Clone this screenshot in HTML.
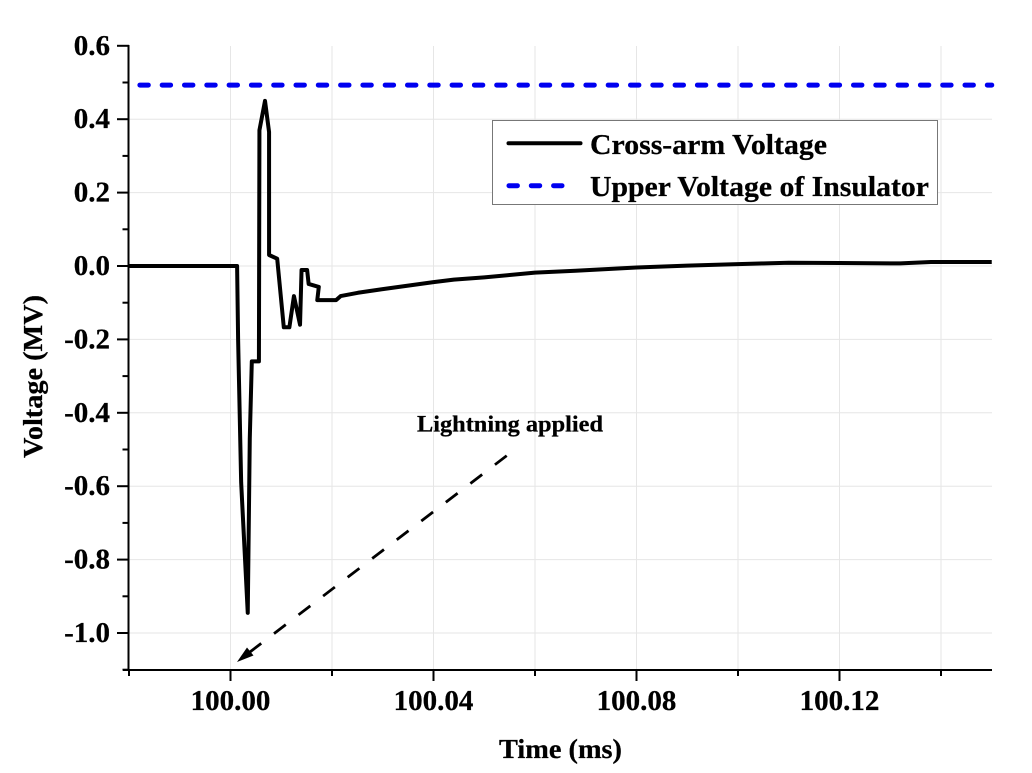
<!DOCTYPE html>
<html lang="en">
<head>
<meta charset="utf-8">
<title>Cross-arm Voltage Chart</title>
<style>
  html, body { margin: 0; padding: 0; background: #fff; }
  svg { display: block; font-family: "Liberation Serif", serif; font-weight: bold; fill: #000; filter: blur(0.3px); }
  text { stroke: #000; stroke-width: 0.25px; }
</style>
</head>
<body>
<svg id="chart" xmlns="http://www.w3.org/2000/svg" width="1032" height="773" viewBox="0 0 1032 773">
  <rect x="0" y="0" width="1032" height="773" fill="#fff"/>
  <g id="grid"></g>
  <g id="series"></g>
  <g id="axes"></g>
  <text x="499" y="758" font-size="27" textLength="123" lengthAdjust="spacingAndGlyphs">Time (ms)</text>
  <text transform="translate(42,458) rotate(-90)" font-size="27.5" textLength="163" lengthAdjust="spacingAndGlyphs">Voltage (MV)</text>
  <g>
    <rect x="492.5" y="120.5" width="445" height="84" fill="#fff" stroke="#777" stroke-width="1"/>
    <line x1="508.5" y1="143.3" x2="580.5" y2="143.3" stroke="#000" stroke-width="4" stroke-linecap="round"/>
    <text x="590" y="154" font-size="29" textLength="237" lengthAdjust="spacingAndGlyphs">Cross-arm Voltage</text>
    <line x1="509" y1="185.7" x2="563" y2="185.7" stroke="#0000f0" stroke-width="5" stroke-linecap="round" stroke-dasharray="8.4 13.9"/>
    <text x="590" y="196" font-size="29" textLength="339" lengthAdjust="spacingAndGlyphs">Upper Voltage of Insulator</text>
  </g>
  <g>
    <text x="417" y="431.5" font-size="23" textLength="186" lengthAdjust="spacingAndGlyphs">Lightning applied</text>
    <line x1="506.7" y1="455.7" x2="246" y2="655" stroke="#000" stroke-width="2.8" stroke-dasharray="14.8 16.1"/>
    <polygon points="237,662 247,647.5 253.5,655.5" fill="#000"/>
  </g>
</svg>
<script>
// Chart data
const crossArmTime = [99.98, 100.0013, 100.0015, 100.0021, 100.0034, 100.0038, 100.0042, 100.0056, 100.0057, 100.0068, 100.0076, 100.0076, 100.0092, 100.0105, 100.0116, 100.0125, 100.0137, 100.0140, 100.0151, 100.0154, 100.0174, 100.0171, 100.0208, 100.0217, 100.0251, 100.03, 100.04, 100.044, 100.05, 100.06, 100.068, 100.08, 100.09, 100.10, 100.11, 100.12, 100.132, 100.138, 100.15];
const crossArmVoltage = [0, 0, -0.2, -0.59, -0.945, -0.47, -0.26, -0.26, 0.37, 0.45, 0.365, 0.03, 0.02, -0.167, -0.167, -0.082, -0.16, -0.011, -0.011, -0.049, -0.057, -0.093, -0.093, -0.082, -0.073, -0.063, -0.044, -0.037, -0.031, -0.018, -0.013, -0.004, 0.001, 0.005, 0.009, 0.008, 0.007, 0.011, 0.011];
const upperVoltageTime = [99.98, 100.15];
const upperVoltageValue = [0.493, 0.493];
const xMajorTicks = [100.00, 100.04, 100.08, 100.12];
const xMinorTicks = [99.98, 100.02, 100.06, 100.10, 100.14];
const yMajorTicks = [0.6, 0.4, 0.2, 0.0, -0.2, -0.4, -0.6, -0.8, -1.0];
const yMinorTicks = [0.5, 0.3, 0.1, -0.1, -0.3, -0.5, -0.7, -0.9, -1.1];

// Axis functions
function xScale(t) { return 230.5 + (t - 100) * 5075; }
function yScale(v) { return 266 - v * 367; }

const SVG_NS = 'http://www.w3.org/2000/svg';
const gridGroup = document.getElementById('grid');
const seriesGroup = document.getElementById('series');
const axesGroup = document.getElementById('axes');

function makeLine(x1, y1, x2, y2, color, width) {
  const el = document.createElementNS(SVG_NS, 'line');
  el.setAttribute('x1', x1);
  el.setAttribute('y1', y1);
  el.setAttribute('x2', x2);
  el.setAttribute('y2', y2);
  el.setAttribute('stroke', color);
  el.setAttribute('stroke-width', width);
  return el;
}

const GRID = '#e6e6e6';
xMajorTicks.concat(xMinorTicks).forEach(function (t) {
  if (t === 99.98) return;
  const x = xScale(t);
  const el = makeLine(x, 46, x, 670, GRID, 1);
  
  
  gridGroup.appendChild(el);
});
yMajorTicks.forEach(function (v) {
  if (v === 0.6) return;
  const y = yScale(v);
  const el = makeLine(129, y, 992, y, GRID, 1);
  
  
  gridGroup.appendChild(el);
});

function pointString(xs, ys) {
  return xs.map(function (t, i) {
    return xScale(t).toFixed(2) + ',' + yScale(ys[i]).toFixed(2);
  }).join(' ');
}

const upperLine = document.createElementNS(SVG_NS, 'polyline');


upperLine.setAttribute('points', pointString(upperVoltageTime, upperVoltageValue));
upperLine.setAttribute('fill', 'none');
upperLine.setAttribute('stroke', '#0000f0');
upperLine.setAttribute('stroke-width', '5');
upperLine.setAttribute('stroke-linecap', 'round');
upperLine.setAttribute('stroke-dasharray', '8.4 13.9');
upperLine.setAttribute('stroke-dashoffset', '11.4');
seriesGroup.appendChild(upperLine);

const crossLine = document.createElementNS(SVG_NS, 'polyline');


crossLine.setAttribute('points', pointString(crossArmTime, crossArmVoltage));
crossLine.setAttribute('fill', 'none');
crossLine.setAttribute('stroke', '#000');
crossLine.setAttribute('stroke-width', '4');
crossLine.setAttribute('stroke-linejoin', 'round');
seriesGroup.appendChild(crossLine);

const yAxisLine = makeLine(128.5, 45, 128.5, 671, '#000', 2);


axesGroup.appendChild(yAxisLine);

const xAxisLine = makeLine(123, 670, 992, 670, '#000', 2);


axesGroup.appendChild(xAxisLine);

xMajorTicks.forEach(function (t) {
  const x = xScale(t);
  const tick = makeLine(x, 670, x, 681, '#000', 2);
  
  
  axesGroup.appendChild(tick);
  const label = document.createElementNS(SVG_NS, 'text');
  
  
  label.setAttribute('x', x);
  label.setAttribute('y', 710);
  label.setAttribute('font-size', '29');
  label.setAttribute('text-anchor', 'middle');
  label.textContent = t.toFixed(2);
  axesGroup.appendChild(label);
});
xMinorTicks.forEach(function (t) {
  const x = xScale(t);
  const tick = makeLine(x, 670, x, 676, '#000', 2);
  
  
  axesGroup.appendChild(tick);
});
yMajorTicks.forEach(function (v) {
  const y = yScale(v);
  const tick = makeLine(117, y, 129, y, '#000', 2);
  
  
  axesGroup.appendChild(tick);
  const label = document.createElementNS(SVG_NS, 'text');
  
  
  label.setAttribute('x', 110);
  label.setAttribute('y', y + 9);
  label.setAttribute('font-size', '29');
  label.setAttribute('text-anchor', 'end');
  label.textContent = v.toFixed(1);
  axesGroup.appendChild(label);
});
yMinorTicks.forEach(function (v) {
  const y = yScale(v);
  const tick = makeLine(122.5, y, 129, y, '#000', 2);
  
  
  axesGroup.appendChild(tick);
});
</script>
</body>
</html>
